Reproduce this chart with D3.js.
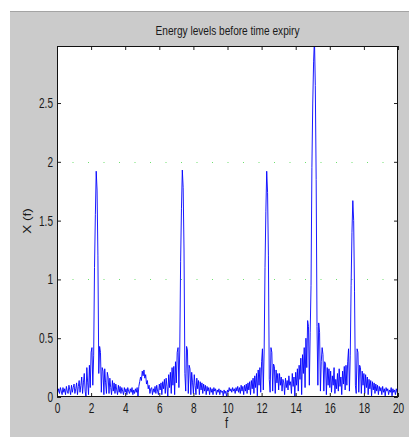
<!DOCTYPE html>
<html lang="en">
  <head>
    <script src="https://d3js.org/d3.v7.min.js"></script>
    <meta charset="utf-8"/>
    <title>Energy levels before time expiry</title>
  </head>
  <body>
    <div id="energy_div">
      <svg id="energy_chart"></svg>
    </div>
  </body>
</html>

<style>
  body { margin: 0; background: #ffffff; }
  #energy_div { width: 409px; height: 437px; }
  svg { display: block; }
  text { font-family: "Liberation Sans", Arial, sans-serif; fill: #1a1a1a; }
</style>

<script>
  const width = 409;
  const height = 437;
  const margin = {top: 46, right: 11, bottom: 40, left: 57};

  // spectrum samples, one value every 0.05 on f (0 .. 20)
  const freqStep = 0.05;
  const energy = [
    0.06, 0.04, 0.07, 0.03, 0.08, 0.05, 0.02, 0.08, 0.04, 0.07, 0.02, 0.09, 0.05, 0.03, 0.10, 0.06, 0.02, 0.10, 0.04, 0.08,
    0.11, 0.03, 0.07, 0.12, 0.02, 0.09, 0.14, 0.04, 0.10, 0.17, 0.03, 0.12, 0.20, 0.05, 0.00, 0.25, 0.12, 0.02, 0.27, 0.08,
    0.38, 0.42, 0.10, 0.35, 1.10, 1.55, 1.92, 1.76, 1.20, 0.20, 0.43, 0.38, 0.04, 0.25, 0.22, 0.02, 0.24, 0.12, 0.03, 0.21,
    0.17, 0.03, 0.16, 0.08, 0.02, 0.14, 0.05, 0.12, 0.03, 0.11, 0.06, 0.02, 0.10, 0.04, 0.09, 0.03, 0.08, 0.05, 0.02, 0.08,
    0.04, 0.07, 0.02, 0.08, 0.05, 0.03, 0.07, 0.04, 0.08, 0.02, 0.06, 0.03, 0.07, 0.04, 0.08, 0.00, 0.09, 0.13, 0.17, 0.14,
    0.22, 0.18, 0.23, 0.16, 0.19, 0.11, 0.14, 0.07, 0.10, 0.03, 0.07, 0.08, 0.02, 0.07, 0.04, 0.09, 0.03, 0.10, 0.05, 0.02,
    0.11, 0.06, 0.12, 0.02, 0.13, 0.07, 0.15, 0.03, 0.16, 0.09, 0.00, 0.19, 0.08, 0.21, 0.03, 0.25, 0.10, 0.26, 0.02, 0.30,
    0.12, 0.38, 0.42, 0.08, 0.40, 1.15, 1.60, 1.93, 1.78, 1.25, 0.20, 0.05, 0.43, 0.40, 0.03, 0.27, 0.24, 0.02, 0.21, 0.12,
    0.03, 0.19, 0.10, 0.02, 0.16, 0.07, 0.14, 0.02, 0.13, 0.06, 0.12, 0.03, 0.11, 0.05, 0.10, 0.02, 0.09, 0.05, 0.08, 0.02,
    0.08, 0.04, 0.07, 0.02, 0.08, 0.05, 0.07, 0.02, 0.06, 0.04, 0.07, 0.02, 0.06, 0.04, 0.05, 0.01, 0.06, 0.03, 0.05, 0.00,
    0.06, 0.04, 0.08, 0.05, 0.07, 0.04, 0.08, 0.05, 0.07, 0.03, 0.08, 0.05, 0.09, 0.04, 0.08, 0.03, 0.10, 0.05, 0.09, 0.02,
    0.10, 0.05, 0.11, 0.03, 0.12, 0.06, 0.13, 0.02, 0.14, 0.07, 0.16, 0.03, 0.18, 0.08, 0.20, 0.01, 0.23, 0.10, 0.25, 0.04,
    0.30, 0.41, 0.06, 0.40, 1.10, 1.58, 1.92, 1.74, 1.20, 0.15, 0.04, 0.42, 0.38, 0.05, 0.28, 0.26, 0.03, 0.23, 0.12, 0.20,
    0.06, 0.20, 0.10, 0.17, 0.05, 0.15, 0.12, 0.02, 0.16, 0.08, 0.14, 0.06, 0.18, 0.10, 0.13, 0.03, 0.20, 0.09, 0.17, 0.00,
    0.21, 0.10, 0.24, 0.05, 0.27, 0.15, 0.33, 0.02, 0.36, 0.20, 0.42, 0.08, 0.50, 0.25, 0.65, 0.60, 0.10, 0.55, 0.95, 1.95,
    2.50, 2.85, 3.05, 2.65, 1.85, 0.60, 0.10, 0.63, 0.55, 0.05, 0.30, 0.42, 0.36, 0.05, 0.30, 0.28, 0.02, 0.25, 0.10, 0.24,
    0.08, 0.22, 0.04, 0.18, 0.10, 0.25, 0.03, 0.15, 0.07, 0.20, 0.05, 0.24, 0.09, 0.17, 0.02, 0.22, 0.11, 0.26, 0.06, 0.27,
    0.10, 0.30, 0.41, 0.05, 0.35, 0.95, 1.40, 1.67, 1.50, 0.90, 0.10, 0.03, 0.41, 0.38, 0.04, 0.27, 0.25, 0.03, 0.22, 0.10,
    0.20, 0.03, 0.19, 0.08, 0.17, 0.02, 0.15, 0.07, 0.14, 0.01, 0.13, 0.06, 0.12, 0.03, 0.11, 0.05, 0.10, 0.02, 0.09, 0.05,
    0.08, 0.02, 0.09, 0.04, 0.07, 0.01, 0.08, 0.05, 0.07, 0.02, 0.06, 0.04, 0.08, 0.01, 0.07, 0.04, 0.06, 0.02, 0.07, 0.04,
    0.06
  ];

  const xTicks = [0, 2, 4, 6, 8, 10, 12, 14, 16, 18, 20];
  const yTicks = [0, 0.5, 1, 1.5, 2, 2.5];
  const gridLevels = [1, 2];
  const xDomain = [0, 20];
  const yDomain = [0, 2.985];

  const titleText = "Energy levels before time expiry";
  const xLabelText = "f";
  const yLabelText = "X (f)";

  const data = energy.map((v, i) => ({f: i * freqStep, v: v}));

  const svg = d3.select("#energy_div").select("svg")
    .attr("width", width)
    .attr("height", height);

  // grey figure panel
  svg.append("rect")
    .attr("x", 10).attr("y", 11)
    .attr("width", width - 10).attr("height", height - 11)
    .attr("fill", "#cbcbcb");
  svg.append("line")
    .attr("x1", 10).attr("x2", width)
    .attr("y1", 11.5).attr("y2", 11.5)
    .attr("stroke", "#a4a4a4");

  const x0 = margin.left, x1 = width - margin.right;
  const y0 = height - margin.bottom, y1 = margin.top;

  const xScale = d3.scaleLinear().domain(xDomain).range([x0, x1]);
  const yScale = d3.scaleLinear().domain(yDomain).range([y0, y1]);

  svg.append("rect")
    .attr("x", x0).attr("y", y1)
    .attr("width", x1 - x0).attr("height", y0 - y1)
    .attr("fill", "#ffffff");

  // dotted green grid at 1 and 2
  svg.append("g")
    .selectAll("line")
    .data(gridLevels)
    .join("line")
      .attr("x1", x0).attr("x2", x1)
      .attr("y1", d => Math.round(yScale(d)) + 0.5)
      .attr("y2", d => Math.round(yScale(d)) + 0.5)
      .attr("stroke", "#6fe06f")
      .attr("stroke-dasharray", "1,14.5");

  svg.append("clipPath").attr("id", "plotclip")
    .append("rect")
    .attr("x", x0).attr("y", y1)
    .attr("width", x1 - x0).attr("height", y0 - y1);

  const line = d3.line()
    .x(d => xScale(d.f))
    .y(d => yScale(d.v));

  svg.append("path")
    .datum(data)
    .attr("clip-path", "url(#plotclip)")
    .attr("fill", "none")
    .attr("stroke", "#0000ff")
    .attr("stroke-width", 0.9)
    .attr("d", line);

  // axes, ticks pointing inwards on all four sides
  const sx = 0.72;

  const gBottom = svg.append("g")
    .attr("transform", "translate(0," + y0 + ")")
    .call(d3.axisBottom(xScale).tickValues(xTicks).tickSizeInner(-4).tickSizeOuter(0).tickPadding(6));
  const gTop = svg.append("g")
    .attr("transform", "translate(0," + y1 + ")")
    .call(d3.axisTop(xScale).tickValues(xTicks).tickSizeInner(-4).tickSizeOuter(0).tickFormat(""));
  const gLeft = svg.append("g")
    .attr("transform", "translate(" + x0 + ",0)")
    .call(d3.axisLeft(yScale).tickValues(yTicks).tickSizeInner(-4).tickSizeOuter(0).tickFormat(d3.format("")));
  const gRight = svg.append("g")
    .attr("transform", "translate(" + x1 + ",0)")
    .call(d3.axisRight(yScale).tickValues(yTicks).tickSizeInner(-4).tickSizeOuter(0).tickFormat(""));

  [gBottom, gTop, gLeft, gRight].forEach(g => {
    g.select(".domain").remove();
    g.selectAll(".tick line").attr("stroke", "#222");
  });

  gBottom.selectAll("text")
    .attr("font-size", 14)
    .attr("font-family", null)
    .attr("transform", "scale(" + sx + ",1)");
  gLeft.selectAll("text")
    .attr("font-size", 14)
    .attr("font-family", null)
    .attr("x", -4 / sx)
    .attr("transform", "scale(" + sx + ",1)");

  svg.append("rect")
    .attr("x", x0 + 0.5).attr("y", y1 + 0.5)
    .attr("width", x1 - x0 - 1).attr("height", y0 - y1 - 1)
    .attr("fill", "none")
    .attr("stroke", "#111");

  svg.append("text")
    .attr("transform", "translate(" + ((x0 + x1) / 2) + ",35) scale(0.81,1)")
    .attr("text-anchor", "middle")
    .attr("font-size", 12.5)
    .text(titleText);

  svg.append("text")
    .attr("transform", "translate(" + ((x0 + x1) / 2 - 1) + ",428) scale(0.8,1)")
    .attr("text-anchor", "middle")
    .attr("font-size", 14)
    .text(xLabelText);

  svg.append("text")
    .attr("transform", "translate(31,221) scale(0.8,1) rotate(-90)")
    .attr("text-anchor", "middle")
    .attr("font-size", 13.5)
    .text(yLabelText);
</script>
